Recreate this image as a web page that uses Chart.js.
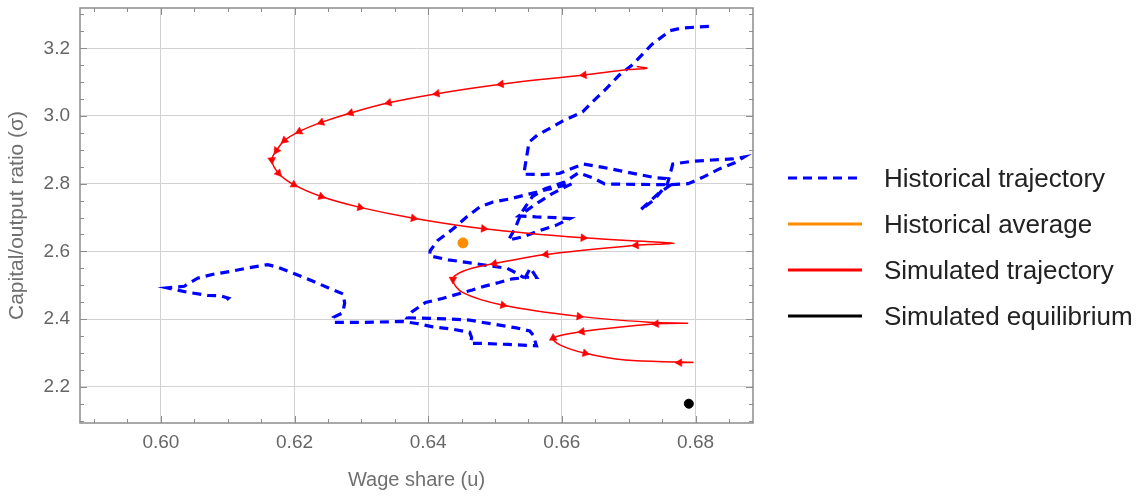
<!DOCTYPE html>
<html>
<head>
<meta charset="utf-8">
<script src="https://cdn.jsdelivr.net/npm/chart.js@4.4.1/dist/chart.umd.min.js"></script>
<style>
  html, body { margin: 0; padding: 0; background: #ffffff; }
  #wrap { position: relative; width: 1141px; height: 498px; overflow: hidden; }
  #c { position: absolute; left: 0; top: 0; }
  .legend { position: absolute; left: 786px; top: 0; font-family: "Liberation Sans", Arial, sans-serif; font-size: 26px; color: #222; }
  .item { position: absolute; left: 0; height: 30px; display: flex; align-items: center; white-space: nowrap; }
  .item svg { width: 78px; height: 10px; margin-right: 20px; flex: none; }
</style>
</head>
<body>
<div id="wrap">
  <canvas id="c" width="1141" height="498"></canvas>
  <div class="legend" id="legend"></div>
</div>
<script>
// Historical trajectory: wage share (u) and capital/output ratio (sigma), in time order
const histU = [
  0.6820, 0.6780, 0.6762, 0.6735, 0.6706, 0.6686, 0.6664, 0.6646, 0.6631, 0.6601,
  0.6586, 0.6563, 0.6551, 0.6548, 0.6543, 0.6570, 0.6596, 0.6610, 0.6632, 0.6662,
  0.6688, 0.6713, 0.6739, 0.6756, 0.6762, 0.6744, 0.6730, 0.6718, 0.6738, 0.6758,
  0.6766, 0.6794, 0.6825, 0.6855, 0.6873, 0.6860, 0.6835, 0.6810, 0.6789, 0.6760,
  0.6710, 0.6664, 0.6647, 0.6625, 0.6604, 0.6575, 0.6556, 0.6540, 0.6530, 0.6520,
  0.6545, 0.6566, 0.6591, 0.6612, 0.6590, 0.6561, 0.6536, 0.6548, 0.6565, 0.6585,
  0.6615, 0.6570, 0.6552, 0.6522, 0.6497, 0.6477, 0.6457, 0.6437, 0.6414, 0.6403,
  0.6402, 0.6430, 0.6460, 0.6490, 0.6518, 0.6532, 0.6542, 0.6562, 0.6553, 0.6545,
  0.6526, 0.6506, 0.6486, 0.6466, 0.6446, 0.6421, 0.6396, 0.6376, 0.6369, 0.6402,
  0.6432, 0.6462, 0.6482, 0.6507, 0.6532, 0.6552, 0.6557, 0.6562, 0.6520, 0.6482,
  0.6463, 0.6465, 0.6462, 0.6437, 0.6407, 0.6383, 0.6361, 0.6300, 0.6259, 0.6258,
  0.6272, 0.6275, 0.6273, 0.6251, 0.6226, 0.6200, 0.6175, 0.6160, 0.6130, 0.6105,
  0.6080, 0.6055, 0.6035, 0.6010, 0.6038, 0.6070, 0.6089, 0.6101, 0.6094
];
const histSigma = [
  3.265, 3.260, 3.252, 3.212, 3.152, 3.121, 3.076, 3.042, 3.012, 2.985,
  2.968, 2.943, 2.923, 2.888, 2.828, 2.827, 2.830, 2.841, 2.858, 2.848,
  2.838, 2.828, 2.818, 2.815, 2.795, 2.770, 2.745, 2.723, 2.752, 2.800,
  2.858, 2.866, 2.870, 2.873, 2.879, 2.863, 2.843, 2.818, 2.800, 2.797,
  2.798, 2.799, 2.817, 2.832, 2.805, 2.785, 2.762, 2.716, 2.668, 2.633,
  2.645, 2.661, 2.677, 2.697, 2.700, 2.702, 2.705, 2.722, 2.745, 2.770,
  2.800, 2.779, 2.770, 2.755, 2.746, 2.731, 2.701, 2.666, 2.632, 2.602,
  2.587, 2.575, 2.567, 2.558, 2.550, 2.536, 2.524, 2.523, 2.551, 2.522,
  2.519, 2.508, 2.498, 2.486, 2.475, 2.461, 2.449, 2.422, 2.404, 2.402,
  2.400, 2.397, 2.390, 2.382, 2.374, 2.365, 2.353, 2.321, 2.325, 2.328,
  2.328, 2.345, 2.361, 2.370, 2.377, 2.387, 2.393, 2.390, 2.390, 2.405,
  2.418, 2.447, 2.474, 2.492, 2.513, 2.534, 2.553, 2.561, 2.551, 2.541,
  2.533, 2.521, 2.497, 2.492, 2.480, 2.470, 2.469, 2.462, 2.450
];

// Historical average
const avgU = [0.6452];
const avgSigma = [2.625];

// Simulated trajectory; simArrow marks the samples that carry a direction arrowhead
const simU = [
  0.6712, 0.6727, 0.6700, 0.6633, 0.6509, 0.6413, 0.6341, 0.6284, 0.6240, 0.6207,
  0.6185, 0.6173, 0.6166, 0.6176, 0.6199, 0.6240, 0.6298, 0.6378, 0.6483, 0.6632,
  0.6740, 0.6768, 0.6740, 0.6711, 0.6576, 0.6499, 0.6453, 0.6437, 0.6452, 0.6512,
  0.6626, 0.6730, 0.6788, 0.6741, 0.6630, 0.6587, 0.6597, 0.6635, 0.6695, 0.6780,
  0.6796, 0.6776
];
const simSigma = [
  3.146, 3.141, 3.137, 3.121, 3.094, 3.066, 3.039, 3.009, 2.981, 2.954,
  2.928, 2.898, 2.870, 2.831, 2.797, 2.762, 2.730, 2.698, 2.667, 2.640,
  2.628, 2.624, 2.621, 2.618, 2.591, 2.564, 2.542, 2.517, 2.478, 2.441,
  2.408, 2.391, 2.388, 2.386, 2.363, 2.344, 2.324, 2.299, 2.279, 2.273,
  2.272, 2.2712
];
const simArrow = [
  0, 0, 0, 1, 1, 1, 1, 1, 1, 1,
  1, 1, 1, 1, 1, 1, 1, 1, 1, 1,
  0, 0, 0, 1, 1, 1, 0, 1, 0, 1,
  1, 0, 0, 1, 1, 1, 0, 1, 0, 0,
  0, 1
];

// Simulated equilibrium
const eqU = [0.679];
const eqSigma = [2.150];

// Axis ticks
const xMajorTicks = [0.60, 0.62, 0.64, 0.66, 0.68];
const xTickLabels = ['0.60', '0.62', '0.64', '0.66', '0.68'];
const yMajorTicks = [2.2, 2.4, 2.6, 2.8, 3.0, 3.2];
const yTickLabels = ['2.2', '2.4', '2.6', '2.8', '3.0', '3.2'];
const xMinorStep = 0.005;
const yMinorStep = 0.05;
const xRange = [0.5879, 0.6886];
const yRange = [2.093, 3.319];

const legendItems = [
  { label: 'Historical trajectory', color: 'rgb(0,0,255)', dash: '9 6' },
  { label: 'Historical average', color: 'rgb(255,140,0)', dash: '' },
  { label: 'Simulated trajectory', color: 'rgb(255,0,0)', dash: '' },
  { label: 'Simulated equilibrium', color: '#000000', dash: '' }
];

const zip = (xs, ys) => xs.map((x, i) => ({ x: x, y: ys[i] }));

function majorIndex(list, v) {
  return list.findIndex(m => Math.abs(m - v) < 1e-7);
}

function minorTicks(range, step) {
  const out = [];
  const first = Math.ceil(range[0] / step - 1e-9);
  const last = Math.floor(range[1] / step + 1e-9);
  for (let k = first; k <= last; k++) out.push({ value: +(k * step).toFixed(4) });
  return out;
}

// Arrowhead orientation: follow the curve's direction in pixel space
function arrowRotation(ctx) {
  const i = ctx.dataIndex;
  const d = ctx.dataset.data;
  const xs = ctx.chart.scales.x, ys = ctx.chart.scales.y;
  const a = d[Math.max(i - 1, 0)], b = d[Math.min(i + 1, d.length - 1)];
  const dx = xs.getPixelForValue(b.x) - xs.getPixelForValue(a.x);
  const dy = ys.getPixelForValue(b.y) - ys.getPixelForValue(a.y);
  return Math.atan2(dy, dx) * 180 / Math.PI + 90;
}

// Mathematica-style frame: box on all four sides with inward major/minor ticks
const framePlugin = {
  id: 'frameTicks',
  beforeDatasetsDraw(chart) {
    const { ctx, chartArea: a, scales } = chart;
    ctx.save();
    ctx.strokeStyle = '#8c8c8c';
    ctx.lineWidth = 1;
    ctx.beginPath();
    scales.x.ticks.forEach(t => {
      const px = Math.round(scales.x.getPixelForValue(t.value)) + 0.5;
      const len = majorIndex(xMajorTicks, t.value) >= 0 ? 7 : 4;
      ctx.moveTo(px, a.bottom); ctx.lineTo(px, a.bottom - len);
      ctx.moveTo(px, a.top); ctx.lineTo(px, a.top + len);
    });
    scales.y.ticks.forEach(t => {
      const py = Math.round(scales.y.getPixelForValue(t.value)) + 0.5;
      const len = majorIndex(yMajorTicks, t.value) >= 0 ? 7 : 4;
      ctx.moveTo(a.left, py); ctx.lineTo(a.left + len, py);
      ctx.moveTo(a.right, py); ctx.lineTo(a.right - len, py);
    });
    ctx.stroke();
    ctx.lineWidth = 1.5;
    ctx.strokeRect(a.left, a.top, a.right - a.left, a.bottom - a.top);
    ctx.restore();
  }
};

const tickFont = { family: '"Liberation Sans", Arial, sans-serif', size: 19 };
const xTitleFont = { family: '"Liberation Sans", Arial, sans-serif', size: 20 };
const yTitleFont = { family: '"Liberation Sans", Arial, sans-serif', size: 21 };

new Chart(document.getElementById('c'), {
  type: 'scatter',
  data: {
    datasets: [
      {
        label: 'Historical trajectory',
        data: zip(histU, histSigma),
        showLine: true,
        borderColor: 'rgb(0,0,255)',
        borderWidth: 3.2,
        borderDash: [9, 6],
        pointRadius: 0,
        tension: 0,
        order: 4
      },
      {
        label: 'Simulated trajectory',
        data: zip(simU, simSigma),
        showLine: true,
        borderColor: 'rgb(255,0,0)',
        backgroundColor: 'rgb(255,0,0)',
        borderWidth: 1.5,
        tension: 0.35,
        pointStyle: 'triangle',
        pointRadius: ctx => simArrow[ctx.dataIndex] ? 4.5 : 0,
        pointBorderWidth: 0.5,
        pointBorderColor: 'rgb(255,0,0)',
        pointBackgroundColor: 'rgb(255,0,0)',
        pointRotation: arrowRotation,
        order: 3
      },
      {
        label: 'Historical average',
        data: zip(avgU, avgSigma),
        pointRadius: 5,
        pointBackgroundColor: 'rgb(255,140,0)',
        pointBorderColor: 'rgb(255,140,0)',
        order: 2
      },
      {
        label: 'Simulated equilibrium',
        data: zip(eqU, eqSigma),
        pointRadius: 4.5,
        pointBackgroundColor: '#000000',
        pointBorderColor: '#000000',
        order: 1
      }
    ]
  },
  options: {
    responsive: false,
    animation: false,
    devicePixelRatio: 1,
    layout: { padding: { left: 0, top: 8, right: 388, bottom: 0 } },
    plugins: { legend: { display: false }, tooltip: { enabled: false } },
    scales: {
      x: {
        type: 'linear',
        min: xRange[0],
        max: xRange[1],
        afterBuildTicks: s => { s.ticks = minorTicks(xRange, xMinorStep); },
        afterFit: s => { s.height = 75; s.paddingLeft = 0; s.paddingRight = 0; },
        grid: {
          color: c => majorIndex(xMajorTicks, c.tick.value) >= 0 ? '#d2d2d2' : 'rgba(0,0,0,0)',
          lineWidth: 1,
          drawTicks: false
        },
        border: { display: false },
        ticks: {
          autoSkip: false,
          maxRotation: 0,
          padding: 8,
          color: '#666666',
          font: tickFont,
          callback: v => { const i = majorIndex(xMajorTicks, v); return i >= 0 ? xTickLabels[i] : ''; }
        },
        title: {
          display: true,
          text: 'Wage share (u)',
          color: '#707070',
          font: xTitleFont,
          padding: { top: 0, bottom: 6 }
        }
      },
      y: {
        type: 'linear',
        min: yRange[0],
        max: yRange[1],
        afterBuildTicks: s => { s.ticks = minorTicks(yRange, yMinorStep); },
        afterFit: s => { s.width = 80; s.paddingTop = 0; s.paddingBottom = 0; },
        grid: {
          color: c => majorIndex(yMajorTicks, c.tick.value) >= 0 ? '#d2d2d2' : 'rgba(0,0,0,0)',
          lineWidth: 1,
          drawTicks: false
        },
        border: { display: false },
        ticks: {
          autoSkip: false,
          padding: 10,
          color: '#666666',
          font: tickFont,
          callback: v => { const i = majorIndex(yMajorTicks, v); return i >= 0 ? yTickLabels[i] : ''; }
        },
        title: {
          display: true,
          text: 'Capital/output ratio (σ)',
          color: '#707070',
          font: yTitleFont,
          padding: { top: 5, bottom: 0 }
        }
      }
    }
  },
  plugins: [framePlugin]
});

// Legend
const legendEl = document.getElementById('legend');
legendItems.forEach((it, i) => {
  const row = document.createElement('div');
  row.className = 'item';
  row.style.top = (163 + i * 46) + 'px';
  const dashAttr = it.dash ? ' stroke-dasharray="' + it.dash + '"' : '';
  row.innerHTML = '<svg viewBox="0 0 78 10"><line x1="2" y1="5" x2="76" y2="5" stroke="' + it.color +
    '" stroke-width="3"' + dashAttr + '/></svg><span>' + it.label + '</span>';
  legendEl.appendChild(row);
});
</script>
</body>
</html>
